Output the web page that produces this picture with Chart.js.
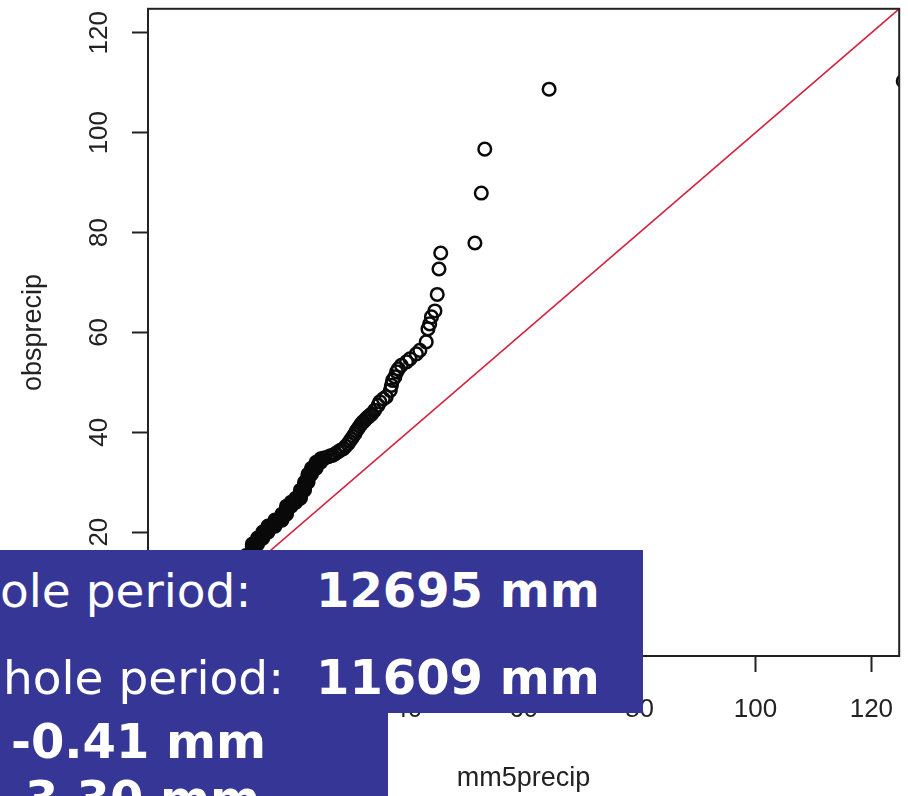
<!DOCTYPE html>
<html>
<head>
<meta charset="utf-8">
<script src="https://cdn.jsdelivr.net/npm/chart.js@4.4.1/dist/chart.umd.min.js"></script>
<style>
  html, body { margin: 0; padding: 0; background: #fff; overflow: hidden; }
  #wrap { position: relative; width: 908px; height: 796px; overflow: hidden; }
  .band { position: absolute; background: #363696; }
  .txt { position: absolute; font-family: 'DejaVu Sans', sans-serif; font-size: 47px; line-height: 47px; color: #fff; white-space: nowrap; }
  .b { font-weight: bold; font-size: 48px; line-height: 48px; }
</style>
</head>
<body>
<div id="wrap">
  <canvas id="qq" width="908" height="796"></canvas>
  <div class="band" style="left:0;top:550px;width:643px;height:163px"></div>
  <div class="band" style="left:0;top:713px;width:388px;height:83px"></div>
  <div class="txt" style="left:0px;top:567px">ole period:</div>
  <div class="txt b" style="left:316px;top:566px">12695 mm</div>
  <div class="txt" style="left:3px;top:654px">hole period:</div>
  <div class="txt b" style="left:316px;top:653px">11609 mm</div>
  <div class="txt b" style="left:11px;top:717px">-0.41 mm</div>
  <div class="txt b" style="left:5px;top:774px">-3.30 mm</div>
</div>
<script>
// ======== DADOS (quantis ordenados) ========
const mm5precip = [
  0.0, 0.3, 0.8, 1.5, 2.3, 3.2, 4.2, 5.2, 6.2, 7.2, 8.2, 9.2, 10.2, 11.2, 12.1,
  13.2, 13.2, 13.2, 13.2, 13.5, 13.8, 14.1, 14.1, 14.1, 14.1, 14.4, 14.7, 15.0, 15.0, 15.0, 15.0,
  15.3, 15.6, 15.9, 15.9, 15.9, 15.9, 16.3, 16.7, 17.1, 17.1, 17.1, 17.1, 17.5, 17.9, 18.3,
  18.3, 18.3, 18.3, 18.7, 19.1, 19.1, 19.1, 19.1, 19.1, 19.5, 19.9, 19.9, 19.9,
  20.3, 20.7, 20.7, 20.7, 21.1, 21.5, 21.5, 21.5, 21.5, 21.5, 21.9, 22.2, 22.2, 22.2, 22.2, 22.2,
  22.5, 22.8, 22.8, 22.8, 22.8, 22.8, 23.1, 23.4, 23.4, 23.4, 23.4, 23.8, 24.2, 24.2, 24.2, 24.2,
  24.6, 25.0, 25.0, 25.0,
  25.4, 25.8, 26.3, 26.7, 27.1, 27.5, 28.0, 28.4, 28.9, 29.3, 29.7, 30.0, 30.3, 30.6, 30.9,
  31.1, 31.4, 31.7, 32.0, 32.3, 32.6, 32.9, 33.2, 33.5, 33.8, 34.3, 34.9, 35.2, 35.8, 36.3,
  37.0, 37.2, 37.4, 37.8, 38.1, 38.4, 38.9, 39.8, 40.4, 41.5, 42.1, 43.2, 43.5, 43.8, 44.1,
  44.7, 45.1, 45.4, 45.7, 51.6, 52.7, 53.3, 64.4, 125.5
];
const obsprecip = [
  0.0, 0.5, 1.2, 2.1, 3.1, 4.3, 5.6, 6.9, 8.1, 9.4, 10.6, 11.8, 13.0, 14.2, 15.3,
  16.4, 16.8, 17.2, 17.6, 17.6, 17.6, 17.6, 18.0, 18.4, 18.8, 18.8, 18.8, 18.8, 19.2, 19.6, 20.0,
  20.0, 20.0, 20.0, 20.4, 20.8, 21.2, 21.2, 21.2, 21.2, 21.6, 22.0, 22.4, 22.4, 22.4, 22.4,
  22.8, 23.2, 23.6, 23.6, 23.6, 24.0, 24.4, 24.8, 25.2, 25.2, 25.2, 25.6, 26.0,
  26.0, 26.0, 26.4, 26.8, 26.8, 26.8, 27.2, 27.6, 28.0, 28.4, 28.4, 28.4, 28.8, 29.2, 29.6, 30.0,
  30.0, 30.0, 30.4, 30.8, 31.2, 31.6, 31.6, 31.6, 32.0, 32.4, 32.8, 32.8, 32.8, 33.2, 33.6, 34.0,
  34.0, 34.0, 34.4, 34.7,
  34.8, 34.9, 35.1, 35.3, 35.4, 35.7, 36.1, 36.4, 36.7, 37.2, 37.7, 38.2, 38.7, 39.2, 39.7,
  40.2, 40.7, 41.2, 41.7, 42.1, 42.4, 42.8, 43.1, 43.4, 43.7, 44.4, 45.4, 46.1, 46.7, 47.1,
  48.4, 49.4, 50.4, 51.1, 52.1, 52.7, 53.4, 54.1, 54.7, 55.7, 56.4, 58.1, 60.7, 61.7, 63.1,
  64.3, 67.6, 72.7, 75.9, 77.9, 87.9, 96.7, 108.7, 110.3
];
const xTicks = [0, 20, 40, 60, 80, 100, 120];
const yTicks = [0, 20, 40, 60, 80, 100, 120];
const axisMin = -4.8;
const axisMax = 124.8;

const pontos = mm5precip.map((x, i) => ({ x: x, y: obsprecip[i] }));
const linha11 = [{ x: axisMin, y: axisMin }, { x: axisMax, y: axisMax }];

const fonteEixo = { family: "'Liberation Sans', Arial, sans-serif", size: 26 };
const fonteTitulo = { family: "'Liberation Sans', Arial, sans-serif", size: 27 };

// moldura do gráfico (box do R)
const moldura = {
  id: 'moldura',
  afterDatasetsDraw(chart) {
    const { ctx, chartArea: a } = chart;
    ctx.save();
    ctx.strokeStyle = '#222';
    ctx.lineWidth = 2;
    ctx.strokeRect(a.left, a.top, a.right - a.left, a.bottom - a.top);
    ctx.restore();
  }
};

// sem folgas extras dos rótulos: área do gráfico fixa
function semFolga(s) {
  s.paddingTop = 0;
  s.paddingBottom = 0;
  s.paddingLeft = 0;
  s.paddingRight = 0;
}

new Chart(document.getElementById('qq'), {
  type: 'scatter',
  data: {
    datasets: [
      {
        type: 'line',
        data: linha11,
        borderColor: '#d4213d',
        borderWidth: 1.6,
        pointRadius: 0,
        fill: false
      },
      {
        data: pontos,
        pointRadius: 6.3,
        pointBorderWidth: 2.5,
        pointBorderColor: '#0a0a0a',
        borderColor: '#0a0a0a',
        pointBackgroundColor: 'rgba(0,0,0,0)',
        backgroundColor: 'rgba(0,0,0,0)',
        clip: 0
      }
    ]
  },
  plugins: [moldura],
  options: {
    responsive: false,
    animation: false,
    layout: { padding: { top: 8, right: 8, left: 0, bottom: 0 } },
    plugins: { legend: { display: false }, tooltip: { enabled: false } },
    scales: {
      x: {
        type: 'linear',
        min: axisMin,
        max: axisMax,
        afterBuildTicks: s => { s.ticks = xTicks.map(v => ({ value: v })); },
        afterFit: s => { s.height = 140; semFolga(s); },
        grid: { drawOnChartArea: false, tickLength: 16, tickWidth: 2, tickColor: '#222' },
        border: { display: false },
        ticks: { font: fonteEixo, color: '#222', padding: 22, maxRotation: 0, autoSkip: false },
        title: { display: true, text: 'mm5precip', font: fonteTitulo, color: '#222', padding: { top: 0, bottom: 1 } }
      },
      y: {
        type: 'linear',
        min: axisMin,
        max: axisMax,
        afterBuildTicks: s => { s.ticks = yTicks.map(v => ({ value: v })); },
        afterFit: s => { s.width = 148; semFolga(s); },
        grid: { drawOnChartArea: false, tickLength: 16, tickWidth: 2, tickColor: '#222' },
        border: { display: false },
        ticks: { font: fonteEixo, color: '#222', padding: 10, minRotation: 90, maxRotation: 90, crossAlign: 'center', autoSkip: false },
        title: { display: true, text: 'obsprecip', font: fonteTitulo, color: '#222', padding: { top: 17, bottom: 0 } }
      }
    }
  }
});
</script>
</body>
</html>
